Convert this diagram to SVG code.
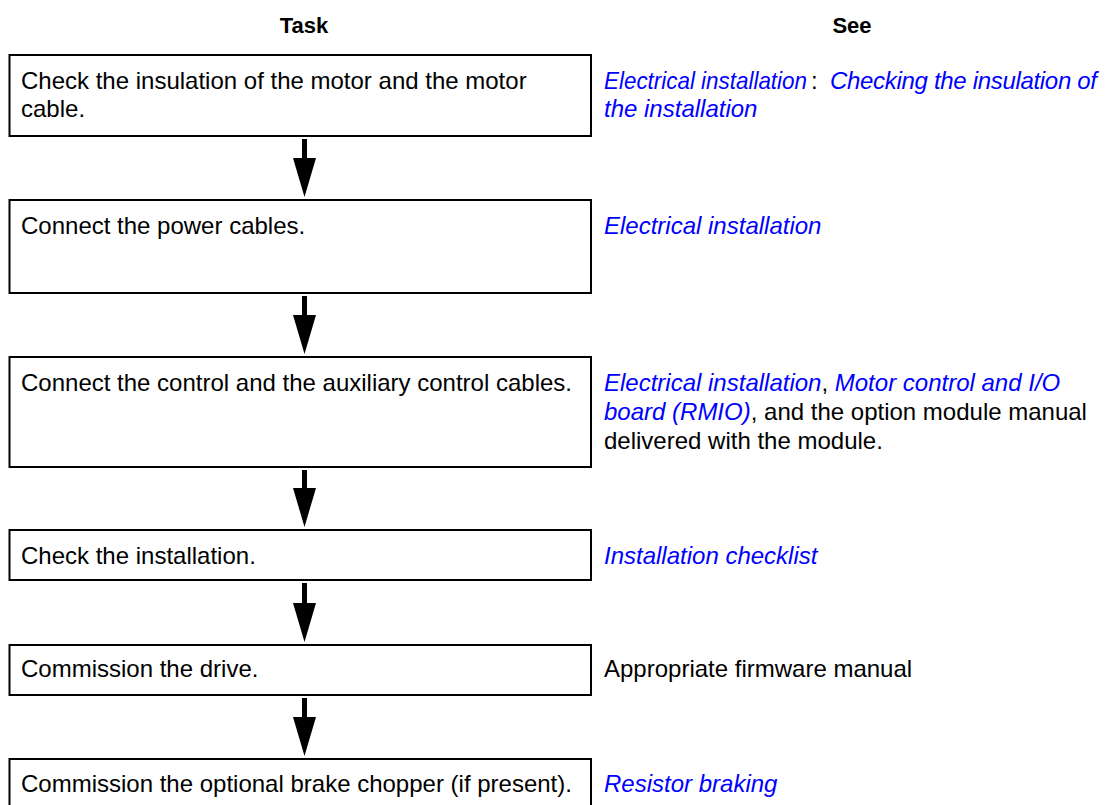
<svg xmlns="http://www.w3.org/2000/svg" width="1106" height="805" viewBox="0 0 1106 805">
<style>
text{font-family:"Liberation Sans",Arial,sans-serif;font-size:24px;fill:#000}
.hd{font-weight:bold;font-size:22px;text-anchor:middle}
.box{fill:#fff;stroke:#000;stroke-width:2}
.lk{fill:#0000ff;font-style:italic}
.cn{stroke:#000;stroke-width:5;fill:none}
</style>
<defs>
<marker id="ah" markerUnits="userSpaceOnUse" markerWidth="40" markerHeight="24" refX="1" refY="11.5" orient="auto">
<path d="M0,0 L39,11.5 L0,23 Z" fill="#000"/>
</marker>
</defs>
<rect width="1106" height="805" fill="#fff"/>
<g id="header">
<text class="hd" x="304" y="33">Task</text>
<text class="hd" x="852" y="33">See</text>
</g>
<g id="connectors">
<line class="cn" x1="304.5" y1="139" x2="304.5" y2="159" marker-end="url(#ah)"/>
<line class="cn" x1="304.5" y1="296" x2="304.5" y2="316" marker-end="url(#ah)"/>
<line class="cn" x1="304.5" y1="470" x2="304.5" y2="489" marker-end="url(#ah)"/>
<line class="cn" x1="304.5" y1="583" x2="304.5" y2="604" marker-end="url(#ah)"/>
<line class="cn" x1="304.5" y1="698" x2="304.5" y2="718" marker-end="url(#ah)"/>
</g>
<g id="step1">
<rect class="box" x="9.5" y="55" width="581.5" height="81"/>
<text x="21" y="89">Check the insulation of the motor and the motor</text>
<text x="21" y="117">cable.</text>
<text x="604" y="89" class="lk" textLength="203" lengthAdjust="spacingAndGlyphs">Electrical installation</text>
<text x="811" y="89">:</text>
<text x="830" y="89" class="lk" textLength="267" lengthAdjust="spacing">Checking the insulation of</text>
<text x="604" y="117" class="lk">the installation</text>
</g>
<g id="step2">
<rect class="box" x="9.5" y="200" width="581.5" height="93"/>
<text x="21" y="234">Connect the power cables.</text>
<text x="604" y="234" class="lk">Electrical installation</text>
</g>
<g id="step3">
<rect class="box" x="9.5" y="357" width="581.5" height="110"/>
<text x="21" y="391">Connect the control and the auxiliary control cables.</text>
<text x="604" y="391"><tspan class="lk">Electrical installation</tspan>, <tspan class="lk">Motor control and I/O</tspan></text>
<text x="604" y="420"><tspan class="lk">board (RMIO)</tspan>, and the option module manual</text>
<text x="604" y="449">delivered with the module.</text>
</g>
<g id="step4">
<rect class="box" x="9.5" y="530" width="581.5" height="50"/>
<text x="21" y="564">Check the installation.</text>
<text x="604" y="564" class="lk">Installation checklist</text>
</g>
<g id="step5">
<rect class="box" x="9.5" y="645" width="581.5" height="50"/>
<text x="21" y="677">Commission the drive.</text>
<text x="604" y="677">Appropriate firmware manual</text>
</g>
<g id="step6">
<rect class="box" x="9.5" y="759" width="581.5" height="60"/>
<text x="21" y="792">Commission the optional brake chopper (if present).</text>
<text x="604" y="792" class="lk">Resistor braking</text>
</g>
</svg>
